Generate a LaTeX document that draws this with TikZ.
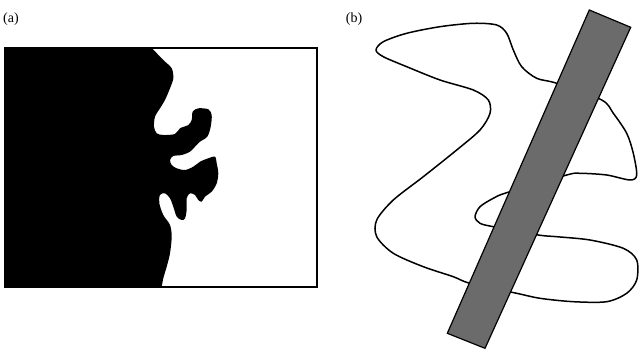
\documentclass[tikz,border=0pt]{standalone}
\usepackage{fontspec}
\setmainfont{Liberation Serif}

\begin{document}
\begin{tikzpicture}[x=1pt,y=-1pt,
    panel/.style={font=\fontsize{14}{16}\selectfont,inner sep=0pt},
    strand/.style={line width=1.5pt,line join=round},
    bar/.style={draw,line width=1.2pt,fill=black!58}]
  \path[use as bounding box] (0,0) rectangle (639,352);

  % (a) black phase with a rough front
  \node[panel] (la) at (11,19) {(a)};
  \begin{scope}
    \clip (5,48) rectangle (317,287);
    \fill[black] plot[smooth,tension=0.5] coordinates {
      (151.7,48) (163.3,60) (171.7,68.3) (173.3,78.3) (170,88.3) (165,100)
      (160,108.3) (155,116.7) (154,126.7) (156.7,133.3) (163.3,135) (175,134)
      (180,128.3) (188.3,125) (191.7,120) (192.7,111.7) (198.3,108.3)
      (208.3,109.3) (211.7,115) (210.7,126.7) (207.3,136.7) (200,141.7)
      (195,146.7) (190,151.7) (181.7,155) (173.3,156) (170,160) (171.7,165)
      (176.7,168.3) (185,170) (193.3,166.7) (200,161.7) (208.3,158.3)
      (215,156.7) (216.7,163.3) (218.3,173.3) (216.7,183.3) (211.7,191.7)
      (205,196.7) (201.7,201.7) (198.3,200) (195,195) (190,193.3)
      (186.7,198.3) (186.7,210) (185,218.3) (181.7,220) (176.7,216.7)
      (173.3,206.7) (170,198.3) (165,193.3) (160,195) (159.3,203.3)
      (163.3,215) (170,225) (171.7,236.7) (170,253.3) (166.7,266.7)
      (163.3,278.3) (161.7,287)}
      -- (5,287) -- (5,48) -- cycle;
  \end{scope}
  \draw[line width=1.2pt] (5,48) rectangle (317,287);

  % (b) chain crossing a slab
  \node[panel] (lb) at (354,19) {(b)};
  \draw[strand] plot[smooth cycle] coordinates {
    (556.7,83.3) (536.7,78.3) (521.7,66.7) (513.3,50) (506.7,33.3)
    (496.7,25) (473.3,23.3) (440,26.7) (406.7,33.3) (383.3,41.7) (376,50)
    (383.3,56.7) (406.7,66.7) (440,80) (473.3,90) (488.3,100) (490,113.3)
    (480,130) (456.7,150) (423.3,176.7) (393.3,200) (376.7,220)
    (376.7,236.7) (393.3,253.3) (423.3,266.7) (453.3,276.7) (470,283.3)
    (516.7,293.3) (540,298.3) (573.3,301.7) (606.7,301.7) (626.7,293.3)
    (636.7,280) (636.7,260) (623.3,248.3) (590,240) (556.7,236.7)
    (538.3,235) (493.3,226.7) (480,223.3) (475,216.7) (480,206.7)
    (493.3,198.3) (506.7,192.7) (566.7,175) (580,173.3) (606.7,175)
    (630,180) (636.7,175) (633.3,153.3) (626.7,133.3) (613.3,113.3)
    (601.7,100)};
  \draw[bar] (589.3,10) -- (630.7,27.3) -- (485,348.3) -- (447.3,333.3) -- cycle;
\end{tikzpicture}
\end{document}
